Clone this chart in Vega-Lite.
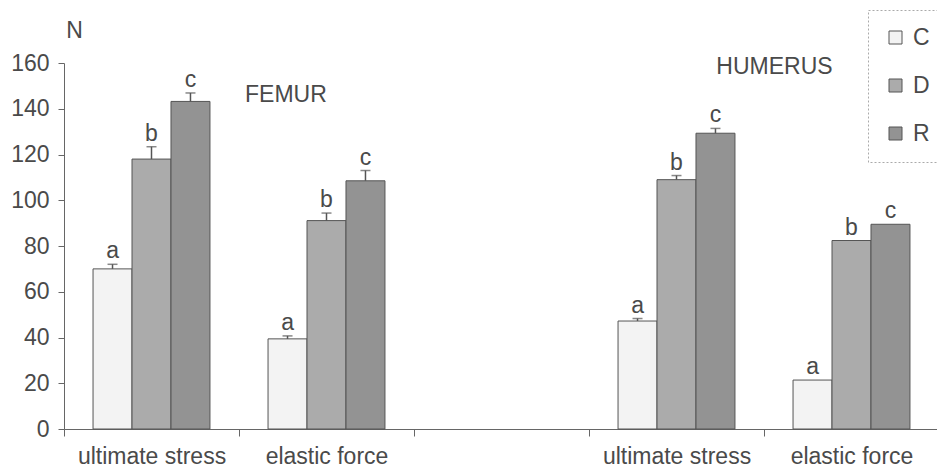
{
  "$schema": "https://vega.github.io/schema/vega-lite/v6.json",
  "width": 875,
  "height": 366,
  "autosize": {"type": "none"},
  "padding": {"left": 64, "top": 63, "right": 0, "bottom": 46},
  "background": "white",
  "config": {
    "view": {"stroke": null},
    "font": "Liberation Sans",
    "axis": {"labelFont": "Liberation Sans", "titleFont": "Liberation Sans", "labelColor": "#4a4a4a", "titleColor": "#4a4a4a", "domainColor": "#666", "tickColor": "#666", "grid": false},
    "legend": {"strokeDash": [2, 2]}
  },
  "datasets": {
    "bars": [
      {"cat": "F_us", "group": "C", "value": 70, "err": 72, "sig": "a"},
      {"cat": "F_us", "group": "D", "value": 118, "err": 123.4, "sig": "b"},
      {"cat": "F_us", "group": "R", "value": 143.2, "err": 146.9, "sig": "c"},
      {"cat": "F_ef", "group": "C", "value": 39.4, "err": 40.7, "sig": "a"},
      {"cat": "F_ef", "group": "D", "value": 91.1, "err": 94.4, "sig": "b"},
      {"cat": "F_ef", "group": "R", "value": 108.5, "err": 113, "sig": "c"},
      {"cat": "H_us", "group": "C", "value": 47.2, "err": 48.3, "sig": "a"},
      {"cat": "H_us", "group": "D", "value": 109, "err": 110.8, "sig": "b"},
      {"cat": "H_us", "group": "R", "value": 129.3, "err": 131.4, "sig": "c"},
      {"cat": "H_ef", "group": "C", "value": 21.4, "err": 21.4, "sig": "a"},
      {"cat": "H_ef", "group": "D", "value": 82.4, "err": 82.4, "sig": "b"},
      {"cat": "H_ef", "group": "R", "value": 89.5, "err": 89.5, "sig": "c"}
    ]
  },
  "data": {"name": "bars"},
  "encoding": {
    "x": {
      "field": "cat",
      "type": "nominal",
      "scale": {"domain": ["F_us", "F_ef", "gap", "H_us", "H_ef"], "paddingInner": 0, "paddingOuter": 0},
      "axis": {
        "title": null,
        "tickBand": "extent",
        "tickSize": 7,
        "labelAngle": 0,
        "labelFontSize": 23,
        "labelPadding": 9,
        "labelExpr": "datum.value == 'F_us' || datum.value == 'H_us' ? 'ultimate stress' : (datum.value == 'F_ef' || datum.value == 'H_ef' ? 'elastic force' : '')"
      }
    },
    "xOffset": {"field": "group", "type": "nominal", "scale": {"domain": ["C", "D", "R"], "paddingInner": 0, "paddingOuter": 0.745}},
    "y": {
      "field": "value",
      "type": "quantitative",
      "scale": {"domain": [0, 160], "nice": false},
      "axis": {
        "title": "N",
        "titleAngle": 0,
        "titleX": 10,
        "titleY": -26,
        "titleAlign": "center",
        "titleBaseline": "alphabetic",
        "titleFontSize": 23,
        "titleFontWeight": "normal",
        "values": [0, 20, 40, 60, 80, 100, 120, 140, 160],
        "tickSize": 6,
        "labelFontSize": 23,
        "labelPadding": 9
      }
    }
  },
  "layer": [
    {
      "mark": {"type": "bar", "stroke": "#555", "strokeWidth": 1},
      "encoding": {
        "color": {
          "field": "group",
          "type": "nominal",
          "scale": {"domain": ["C", "D", "R"], "range": ["#f3f3f3", "#ababab", "#939393"]},
          "legend": {
            "title": null,
            "orient": "none",
            "legendX": 804,
            "legendY": -53,
            "padding": 16,
            "strokeColor": "#aaa",
            "symbolType": "square",
            "symbolSize": 169,
            "symbolStrokeColor": "#555",
            "symbolStrokeWidth": 1,
            "symbolOpacity": 1,
            "labelFontSize": 23,
            "labelColor": "#4a4a4a",
            "labelOffset": 6,
            "rowPadding": 24
          }
        }
      }
    },
    {
      "transform": [{"filter": "datum.err > datum.value"}],
      "mark": {"type": "rule", "stroke": "#555", "strokeWidth": 1.5},
      "encoding": {"y2": {"field": "err"}}
    },
    {
      "transform": [{"filter": "datum.err > datum.value"}],
      "mark": {"type": "tick", "color": "#555", "size": 10, "thickness": 1.5, "orient": "horizontal"},
      "encoding": {"y": {"field": "err", "type": "quantitative"}}
    },
    {
      "mark": {"type": "text", "fontSize": 23, "color": "#4a4a4a", "baseline": "alphabetic", "dy": -6},
      "encoding": {"y": {"field": "err", "type": "quantitative"}, "text": {"field": "sig"}}
    },
    {
      "data": {"values": [{"cat": "F_ef", "value": 143, "name": "FEMUR"}]},
      "mark": {"type": "text", "fontSize": 23, "color": "#4a4a4a", "baseline": "alphabetic", "align": "center"},
      "encoding": {
        "x": {"field": "cat", "type": "nominal", "bandPosition": 0.268},
        "xOffset": null,
        "y": {"field": "value", "type": "quantitative"},
        "text": {"field": "name"}
      }
    },
    {
      "data": {"values": [{"cat": "H_ef", "value": 155, "name": "HUMERUS"}]},
      "mark": {"type": "text", "fontSize": 23, "color": "#4a4a4a", "baseline": "alphabetic", "align": "center"},
      "encoding": {
        "x": {"field": "cat", "type": "nominal", "bandPosition": 0.06},
        "xOffset": null,
        "y": {"field": "value", "type": "quantitative"},
        "text": {"field": "name"}
      }
    }
  ]
}
